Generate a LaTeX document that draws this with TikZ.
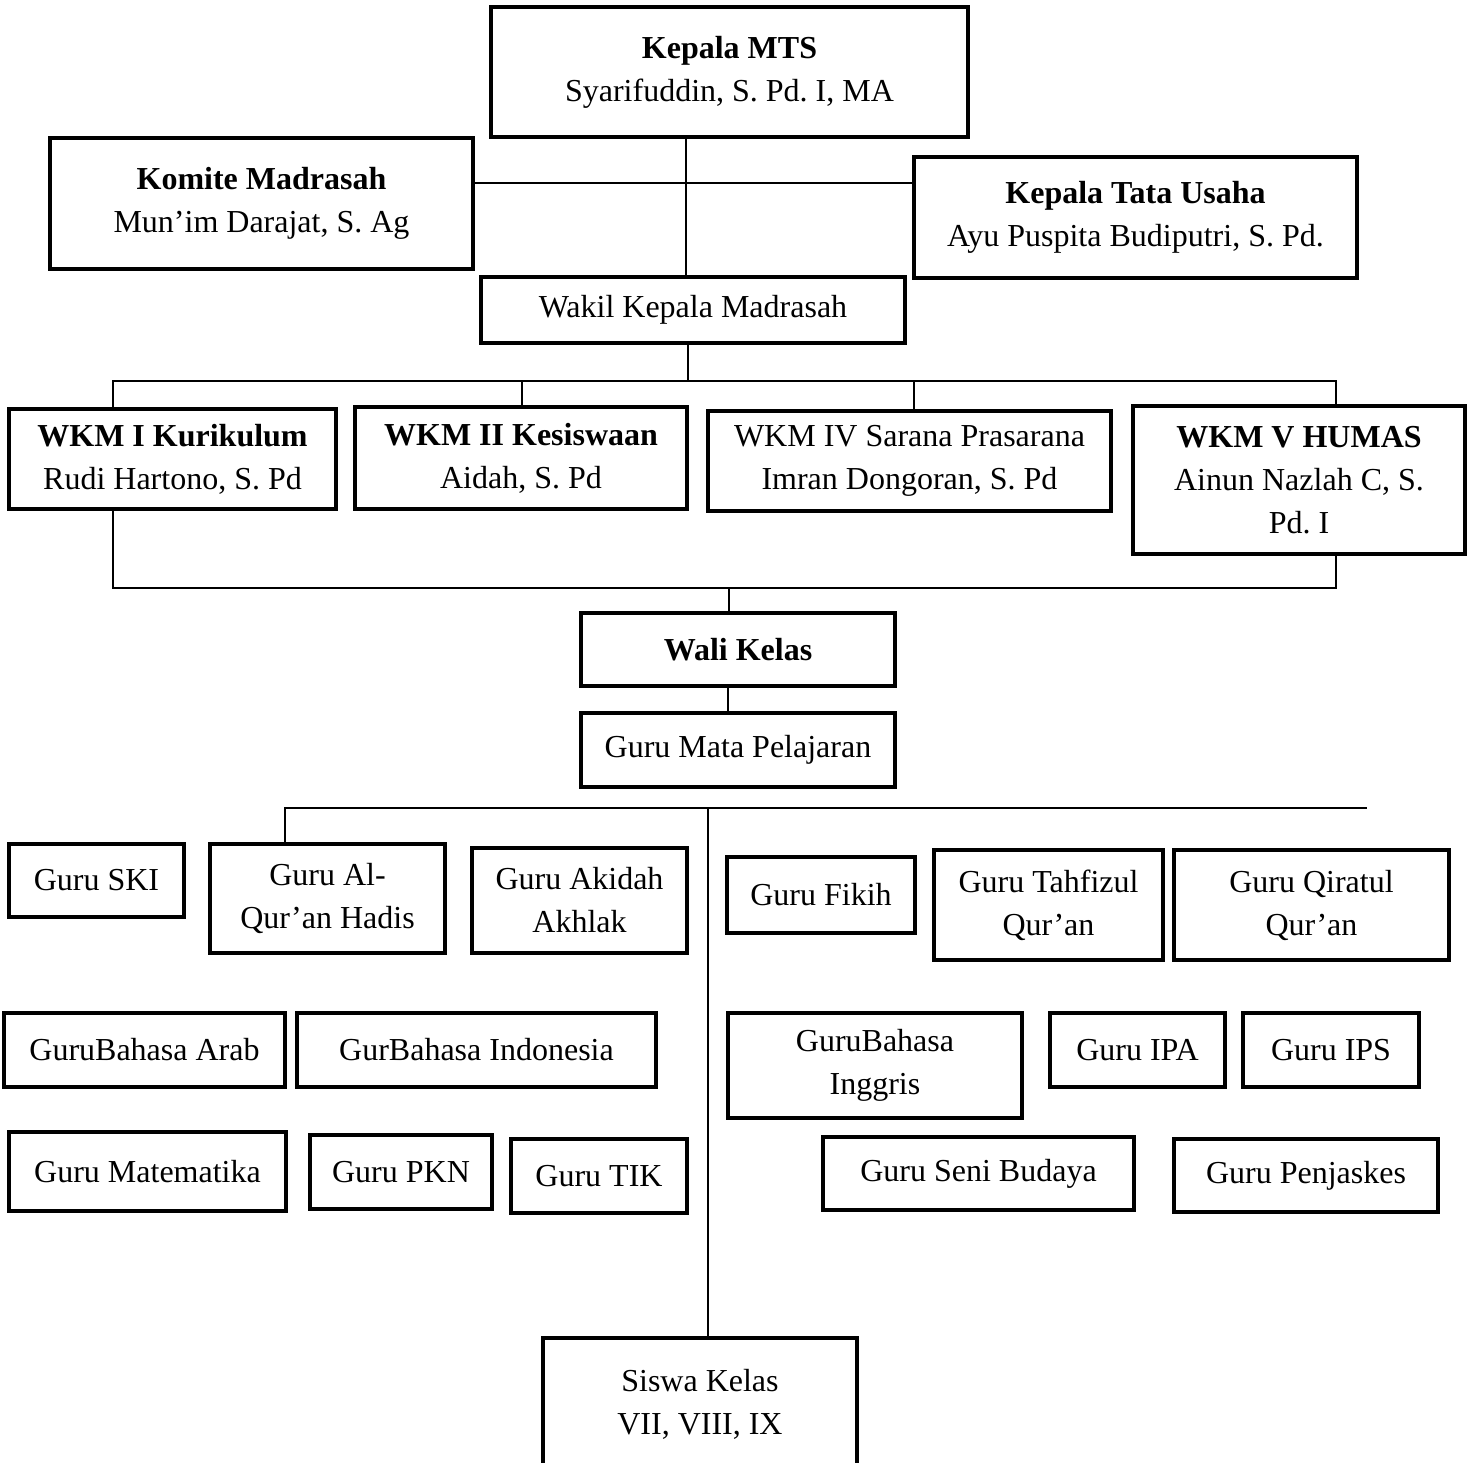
\documentclass[tikz,border=0pt]{standalone}
\usepackage{fontspec}
\setmainfont{Liberation Serif}
\frenchspacing
\begin{document}
\begin{tikzpicture}[x=1pt,y=-1pt,
  box/.style={draw, line width=4.5pt, rectangle, inner sep=0pt, align=center, fill=white,
    font=\fontsize{32}{43}\selectfont\frenchspacing},
  conn/.style={line width=1.6pt, line cap=rect}]
\useasboundingbox (0,0) rectangle (1467,1462);
% top level
\node[box, minimum width=477, minimum height=130] (kepala) at (729.5,72) {\textbf{Kepala MTS}\\Syarifuddin, S. Pd. I, MA};
\node[box, minimum width=423, minimum height=131] (komite) at (261.5,203.5) {\textbf{Komite Madrasah}\\Mun’im Darajat, S. Ag};
\node[box, minimum width=443, minimum height=121] (ktu) at (1135.5,217.5) {\textbf{Kepala Tata Usaha}\\Ayu Puspita Budiputri, S. Pd.};
\node[box, minimum width=424, minimum height=66] (wakil) at (693,310) {Wakil Kepala Madrasah};
% WKM row
\node[box, minimum width=327, minimum height=100] (wkm1) at (172.5,459) {\textbf{WKM I Kurikulum}\\Rudi Hartono, S. Pd};
\node[box, minimum width=332, minimum height=102] (wkm2) at (521,458) {\textbf{WKM II Kesiswaan}\\Aidah, S. Pd};
\node[box, minimum width=403, minimum height=100] (wkm4) at (909.5,461) {WKM IV Sarana Prasarana\\Imran Dongoran, S. Pd};
\node[box, minimum width=332, minimum height=148] (wkm5) at (1299,480) {\textbf{WKM V HUMAS}\\Ainun Nazlah C, S.\\Pd. I};
% wali / guru
\node[box, minimum width=314, minimum height=73] (wali) at (738,649.5) {\textbf{Wali Kelas}};
\node[box, minimum width=314, minimum height=74] (gmp) at (738,750) {Guru Mata Pelajaran};
% subject teachers row 1
\node[box, minimum width=175, minimum height=73] (ski) at (96.5,880.5) {Guru SKI};
\node[box, minimum width=235, minimum height=109] (alquran) at (327.5,898.5) {Guru Al-\\Qur’an Hadis};
\node[box, minimum width=215, minimum height=105] (akidah) at (579.5,900.5) {Guru Akidah\\Akhlak};
\node[box, minimum width=188, minimum height=76] (fikih) at (821,895) {Guru Fikih};
\node[box, minimum width=229, minimum height=110] (tahfizul) at (1048.5,905) {Guru Tahfizul\\Qur’an};
\node[box, minimum width=275, minimum height=110] (qiratul) at (1311.5,905) {Guru Qiratul\\Qur’an};
% row 2
\node[box, minimum width=281, minimum height=74] (arab) at (144.5,1050) {GuruBahasa Arab};
\node[box, minimum width=359, minimum height=74] (indo) at (476.5,1050) {GurBahasa Indonesia};
\node[box, minimum width=294, minimum height=105] (inggris) at (875,1065.5) {GuruBahasa\\Inggris};
\node[box, minimum width=175, minimum height=74] (ipa) at (1137.5,1050) {Guru IPA};
\node[box, minimum width=176, minimum height=74] (ips) at (1331,1050) {Guru IPS};
% row 3
\node[box, minimum width=277, minimum height=79] (mtk) at (147.5,1171.5) {Guru Matematika};
\node[box, minimum width=182, minimum height=74] (pkn) at (401,1172) {Guru PKN};
\node[box, minimum width=176, minimum height=74] (tik) at (599,1176) {Guru TIK};
\node[box, minimum width=311, minimum height=73] (seni) at (978.5,1173.5) {Guru Seni Budaya};
\node[box, minimum width=264, minimum height=73] (penjas) at (1306,1175.5) {Guru Penjaskes};
% students
\node[box, minimum width=314, minimum height=132] (siswa) at (700,1404) {Siswa Kelas\\VII, VIII, IX};
% coordinates for connector trunks
\coordinate (t1) at (686,183);
\coordinate (bus1) at (688,381);
\coordinate (bl) at (113,381);
\coordinate (br) at (1336,381);
\coordinate (t2) at (522,381);
\coordinate (t4) at (914,381);
\coordinate (lowl) at (113,588);
\coordinate (lowr) at (1336,588);
\coordinate (lowm) at (729,588);
\coordinate (wk) at (728,0);
\coordinate (gl) at (285,808);
\coordinate (gr) at (1366,808);
\coordinate (gm) at (708,808);
% connectors
\draw[conn] (kepala.south -| t1) -- (wakil.north -| t1);
\draw[conn] (komite.east |- t1) -- (ktu.west |- t1);
\draw[conn] (wakil.south -| bus1) -- (bus1);
\draw[conn] (bl) -- (br);
\draw[conn] (bl) -- (wkm1.north -| bl);
\draw[conn] (t2) -- (wkm2.north -| t2);
\draw[conn] (t4) -- (wkm4.north -| t4);
\draw[conn] (br) -- (wkm5.north -| br);
\draw[conn] (wkm1.south -| lowl) -- (lowl) -- (lowr) -- (wkm5.south -| lowr);
\draw[conn] (lowm) -- (wali.north -| lowm);
\draw[conn] (wali.south -| wk) -- (gmp.north -| wk);
\draw[conn] (gl) -- (gr);
\draw[conn] (gl) -- (alquran.north -| gl);
\draw[conn] (gm) -- (siswa.north -| gm);
\end{tikzpicture}
\end{document}
